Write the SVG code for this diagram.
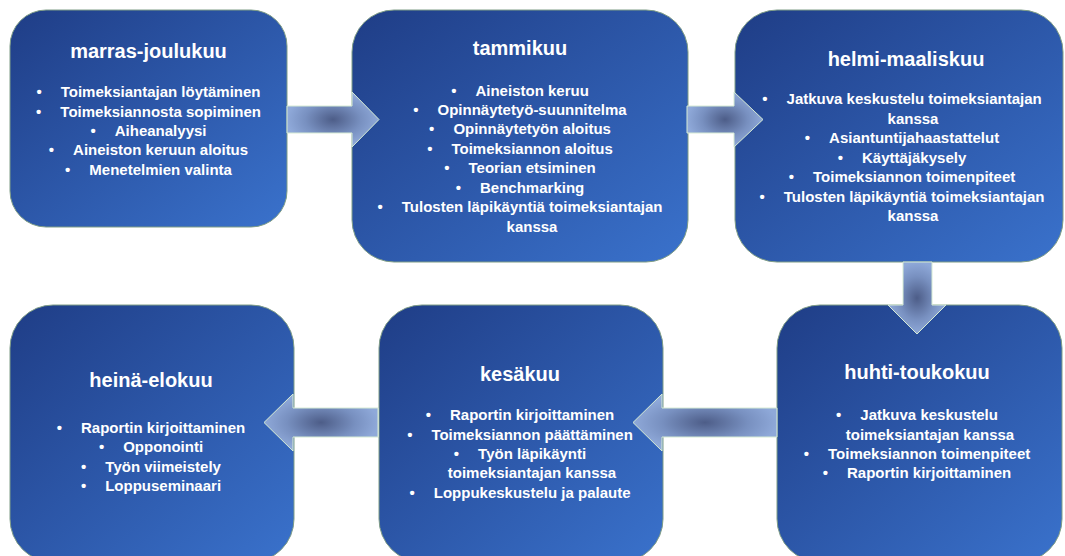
<svg xmlns="http://www.w3.org/2000/svg" width="1065" height="556" viewBox="0 0 1065 556">
  <defs>
    <linearGradient id="boxFill" x1="0" y1="0" x2="1" y2="1">
      <stop offset="0" stop-color="#1f3d86"/>
      <stop offset="1" stop-color="#3a72cc"/>
    </linearGradient>
    <radialGradient id="arrowFill" cx="0.5" cy="0.5" r="0.5">
      <stop offset="0" stop-color="#4d5d88"/>
      <stop offset="0.6" stop-color="#7890c0"/>
      <stop offset="1" stop-color="#8fa9d9"/>
    </radialGradient>
    <style>
      .box { fill: url(#boxFill); stroke: #7f9d86; stroke-width: 1; }
      .arrow { fill: url(#arrowFill); stroke: #d6ebd4; stroke-width: 1; }
      text { font-family: "Liberation Sans", Arial, sans-serif; font-weight: bold; fill: #ffffff; text-anchor: middle; }
      .t { font-size: 20px; }
      .i { font-size: 15px; }
    </style>
  </defs>
  <rect width="1065" height="556" fill="#ffffff"/>

  <g id="node-marras-joulukuu">
    <rect class="box" x="10" y="10" width="277" height="217" rx="36" ry="36"/>
    <text class="t" x="148.5" y="58">marras-joulukuu</text>
    <text class="i" x="148.5" y="97"><tspan>•</tspan><tspan dx="19">Toimeksiantajan löytäminen</tspan></text>
    <text class="i" x="148.5" y="116.5"><tspan>•</tspan><tspan dx="19">Toimeksiannosta sopiminen</tspan></text>
    <text class="i" x="148.5" y="136"><tspan>•</tspan><tspan dx="19">Aiheanalyysi</tspan></text>
    <text class="i" x="148.5" y="155"><tspan>•</tspan><tspan dx="19">Aineiston keruun aloitus</tspan></text>
    <text class="i" x="148.5" y="174.5"><tspan>•</tspan><tspan dx="19">Menetelmien valinta</tspan></text>
  </g>

  <g id="node-tammikuu">
    <rect class="box" x="352" y="10" width="336" height="252" rx="42" ry="42"/>
    <text class="t" x="520" y="55">tammikuu</text>
    <text class="i" x="520" y="95.5"><tspan>•</tspan><tspan dx="19">Aineiston keruu</tspan></text>
    <text class="i" x="520" y="115"><tspan>•</tspan><tspan dx="19">Opinnäytetyö-suunnitelma</tspan></text>
    <text class="i" x="520" y="134"><tspan>•</tspan><tspan dx="19">Opinnäytetyön aloitus</tspan></text>
    <text class="i" x="520" y="153.5"><tspan>•</tspan><tspan dx="19">Toimeksiannon aloitus</tspan></text>
    <text class="i" x="520" y="173"><tspan>•</tspan><tspan dx="19">Teorian etsiminen</tspan></text>
    <text class="i" x="520" y="192.5"><tspan>•</tspan><tspan dx="19">Benchmarking</tspan></text>
    <text class="i" x="520" y="212"><tspan>•</tspan><tspan dx="19">Tulosten läpikäyntiä toimeksiantajan</tspan></text>
    <text class="i" x="532" y="231.5">kanssa</text>
  </g>

  <g id="node-helmi-maaliskuu">
    <rect class="box" x="735" y="10" width="328" height="252" rx="42" ry="42"/>
    <text class="t" x="906" y="66">helmi-maaliskuu</text>
    <text class="i" x="902" y="104"><tspan>•</tspan><tspan dx="19">Jatkuva keskustelu toimeksiantajan</tspan></text>
    <text class="i" x="913" y="123.5">kanssa</text>
    <text class="i" x="902" y="143"><tspan>•</tspan><tspan dx="19">Asiantuntijahaastattelut</tspan></text>
    <text class="i" x="902" y="162.5"><tspan>•</tspan><tspan dx="19">Käyttäjäkysely</tspan></text>
    <text class="i" x="902" y="182"><tspan>•</tspan><tspan dx="19">Toimeksiannon toimenpiteet</tspan></text>
    <text class="i" x="902" y="201.5"><tspan>•</tspan><tspan dx="19">Tulosten läpikäyntiä toimeksiantajan</tspan></text>
    <text class="i" x="913" y="221">kanssa</text>
  </g>

  <g id="node-huhti-toukokuu">
    <rect class="box" x="777" y="305" width="285" height="257" rx="43" ry="43"/>
    <text class="t" x="917" y="378.5">huhti-toukokuu</text>
    <text class="i" x="917" y="420"><tspan>•</tspan><tspan dx="19">Jatkuva keskustelu</tspan></text>
    <text class="i" x="930" y="439.5">toimeksiantajan kanssa</text>
    <text class="i" x="917" y="459"><tspan>•</tspan><tspan dx="19">Toimeksiannon toimenpiteet</tspan></text>
    <text class="i" x="917" y="478"><tspan>•</tspan><tspan dx="19">Raportin kirjoittaminen</tspan></text>
  </g>

  <g id="node-kesakuu">
    <rect class="box" x="379" y="305" width="284" height="257" rx="43" ry="43"/>
    <text class="t" x="520" y="380.5">kesäkuu</text>
    <text class="i" x="520" y="420"><tspan>•</tspan><tspan dx="19">Raportin kirjoittaminen</tspan></text>
    <text class="i" x="520" y="439.5"><tspan>•</tspan><tspan dx="19">Toimeksiannon päättäminen</tspan></text>
    <text class="i" x="520" y="459"><tspan>•</tspan><tspan dx="19">Työn läpikäynti</tspan></text>
    <text class="i" x="532" y="478">toimeksiantajan kanssa</text>
    <text class="i" x="520" y="497.5"><tspan>•</tspan><tspan dx="19">Loppukeskustelu ja palaute</tspan></text>
  </g>

  <g id="node-heina-elokuu">
    <rect class="box" x="10" y="305" width="284" height="257" rx="43" ry="43"/>
    <text class="t" x="151" y="387">heinä-elokuu</text>
    <text class="i" x="151" y="433"><tspan>•</tspan><tspan dx="19">Raportin kirjoittaminen</tspan></text>
    <text class="i" x="151" y="452"><tspan>•</tspan><tspan dx="19">Opponointi</tspan></text>
    <text class="i" x="151" y="471.5"><tspan>•</tspan><tspan dx="19">Työn viimeistely</tspan></text>
    <text class="i" x="151" y="491"><tspan>•</tspan><tspan dx="19">Loppuseminaari</tspan></text>
  </g>

  <g id="connectors">
    <polygon class="arrow" points="287,106 352,106 352,92 379,119.5 352,147 352,133 287,133"/>
    <polygon class="arrow" points="687,106 734,106 734,92 763,119.5 734,147 734,133 687,133"/>
    <polygon class="arrow" points="903,262 932,262 932,305 946,305 917,334 888,305 903,305"/>
    <polygon class="arrow" points="777,408 662,408 662,394 633,422.5 662,451 662,437 777,437"/>
    <polygon class="arrow" points="378,408 293,408 293,394 264,422.5 293,451 293,437 378,437"/>
  </g>
</svg>
